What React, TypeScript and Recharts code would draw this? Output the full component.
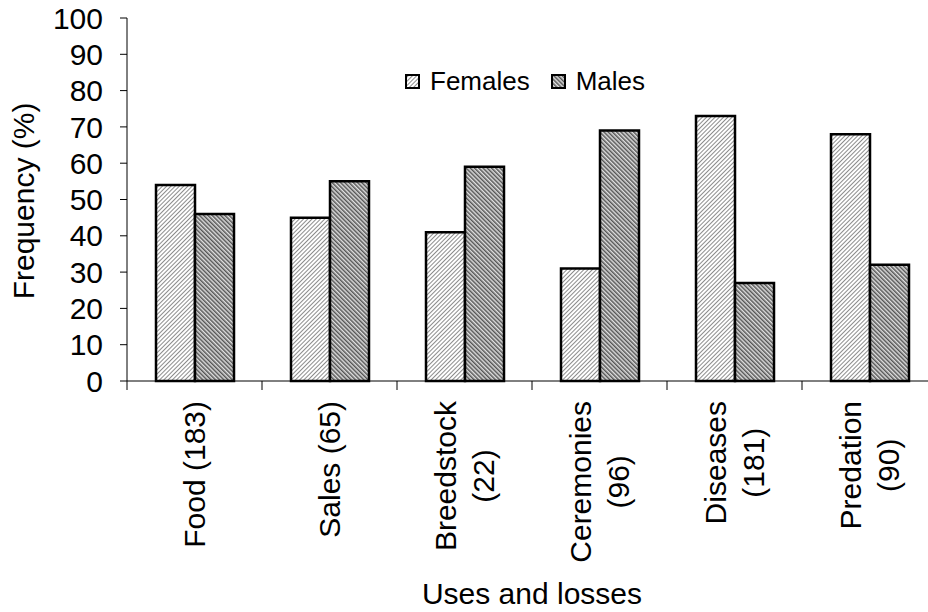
import { BarChart, Bar, XAxis, YAxis, Legend } from 'recharts';

const categories = ['Food (183)', 'Sales (65)', 'Breedstock\n(22)', 'Ceremonies\n(96)', 'Diseases\n(181)', 'Predation\n(90)'];
const females = [54, 45, 41, 31, 73, 68];
const males = [46, 55, 59, 69, 27, 32];
const yTicks = [0, 10, 20, 30, 40, 50, 60, 70, 80, 90, 100];
const seriesNames = ['Females', 'Males'];

const data = categories.map((c, i) => ({ name: c, Females: females[i], Males: males[i] }));

const FONT = '"Liberation Sans", Arial, sans-serif';
const TICK_FS = 30;
const LINE_H = 38;

let ctx: CanvasRenderingContext2D | null = null;
function textWidth(t: string, size: number) {
  if (!ctx) ctx = document.createElement('canvas').getContext('2d');
  if (!ctx) return t.length * size * 0.55;
  ctx.font = `${size}px ${FONT}`;
  return ctx.measureText(t).width;
}

// category label, rotated, plus the tick marks between categories
function CategoryTick(props: any) {
  const { x, y, payload, index, width } = props;
  const band = width / categories.length;
  const lines = String(payload.value).split('\n');
  const maxW = Math.max(...lines.map((l) => textWidth(l, TICK_FS)));
  const n = lines.length;
  return (
    <g>
      <line x1={x - band / 2} y1={y} x2={x - band / 2} y2={y + 9} stroke="#000" />
      {index === categories.length - 1 && (
        <line x1={x + band / 2} y1={y} x2={x + band / 2} y2={y + 9} stroke="#000" />
      )}
      <g transform={`translate(${x},${y}) rotate(-90)`}>
        {lines.map((l, i) => (
          <text
            key={i}
            x={-(20 + maxW / 2)}
            y={(i - (n - 1) / 2) * LINE_H + 0.35 * TICK_FS}
            textAnchor="middle"
            fontSize={TICK_FS}
            fontFamily={FONT}
            fill="#000"
          >
            {l}
          </text>
        ))}
      </g>
    </g>
  );
}

const YTitle = () => (
  <text transform="translate(34,201) rotate(-90)" textAnchor="middle" fontSize={30} fontFamily={FONT} fill="#000">
    Frequency (%)
  </text>
);

const XTitle = () => (
  <text x={532} y={604} textAnchor="middle" fontSize={30} fontFamily={FONT} fill="#000">
    Uses and losses
  </text>
);

const fills: Record<string, string> = { Females: 'url(#hatchF)', Males: 'url(#hatchM)' };

function LegendBox() {
  return (
    <div style={{ display: 'flex', alignItems: 'center', fontFamily: FONT, fontSize: 26, color: '#000', whiteSpace: 'nowrap' }}>
      {seriesNames.map((s) => (
        <div key={s} style={{ display: 'flex', alignItems: 'center', marginRight: 21 }}>
          <svg width={15} height={15}>
            <rect x={1} y={1} width={13} height={13} fill={fills[s]} stroke="#000" strokeWidth={2} />
          </svg>
          <span style={{ marginLeft: 10 }}>{s}</span>
        </div>
      ))}
    </div>
  );
}

export default function App() {
  return (
    <div style={{ position: 'absolute', left: 0, top: 0, width: 928, height: 612, overflow: 'hidden', background: '#fff' }}>
      <BarChart
        width={940}
        height={612}
        data={data}
        margin={{ top: 18, right: 3, bottom: 0, left: 0 }}
        barGap={0}
      >
        <defs>
          <pattern id="hatchF" width="3" height="3" patternUnits="userSpaceOnUse" patternTransform="rotate(45)">
            <rect width="3" height="3" fill="#fff" />
            <rect width="1" height="3" fill="#8c8c8c" />
          </pattern>
          <pattern id="hatchM" width="3" height="3" patternUnits="userSpaceOnUse" patternTransform="rotate(-45)">
            <rect width="3" height="3" fill="#e0e0e0" />
            <rect width="1.5" height="3" fill="#555" />
          </pattern>
        </defs>
        <XAxis
          dataKey="name"
          height={231}
          interval={0}
          tickLine={false}
          tickSize={0}
          tickMargin={0}
          axisLine={{ stroke: '#000' }}
          tick={<CategoryTick />}
          label={<XTitle />}
        />
        <YAxis
          width={127}
          domain={[0, 100]}
          ticks={yTicks}
          interval={0}
          tickSize={7}
          tickMargin={17}
          axisLine={{ stroke: '#000' }}
          tickLine={{ stroke: '#000' }}
          tick={{ fontSize: TICK_FS, fill: '#000', fontFamily: FONT }}
          label={<YTitle />}
        />
        <Legend
          layout="vertical"
          align="center"
          verticalAlign="middle"
          content={<LegendBox />}
          wrapperStyle={{ left: 405, top: 66, width: 'auto' }}
        />
        <Bar dataKey="Females" barSize={39} fill="url(#hatchF)" stroke="#000" strokeWidth={2.5} isAnimationActive={false} />
        <Bar dataKey="Males" barSize={39} fill="url(#hatchM)" stroke="#000" strokeWidth={2.5} isAnimationActive={false} />
      </BarChart>
    </div>
  );
}
